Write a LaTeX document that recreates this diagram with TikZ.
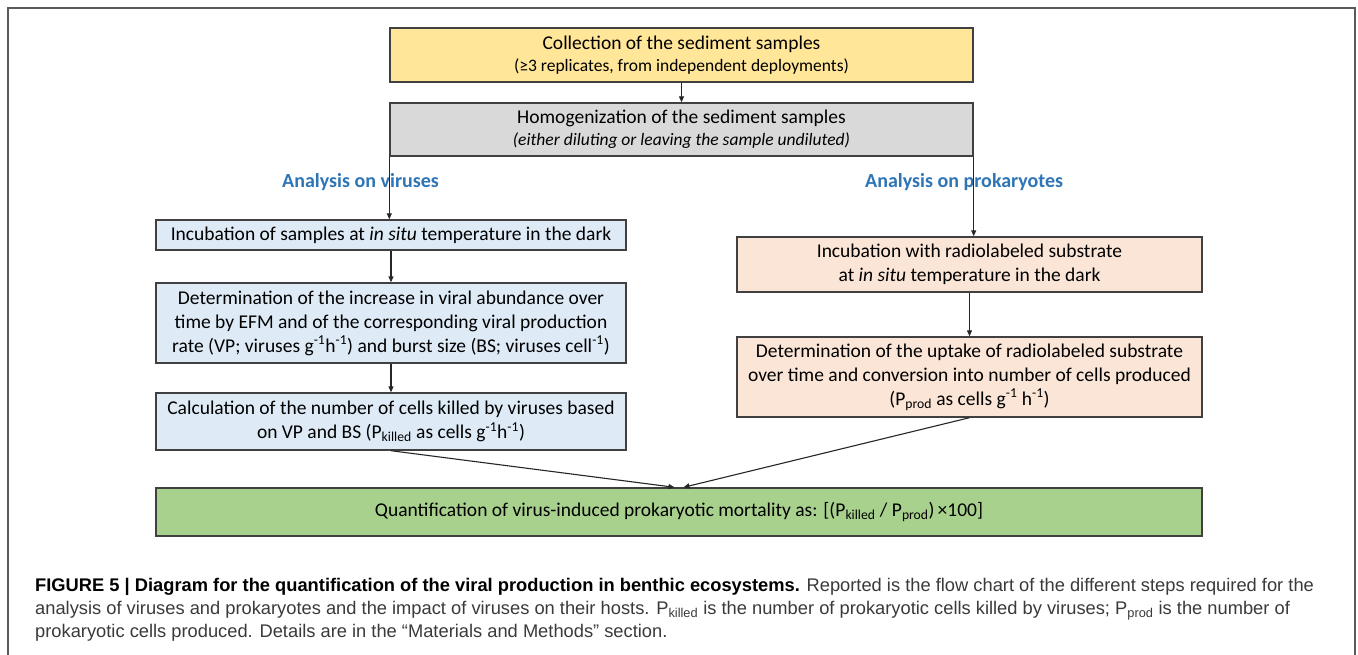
\documentclass[tikz,border=0pt]{standalone}
\usepackage{fontspec}
\setmainfont{Carlito}
\newfontfamily\capfont{Liberation Sans}
\usetikzlibrary{arrows.meta}
\definecolor{yellowbox}{HTML}{FFE699}
\definecolor{graybox}{HTML}{D9D9D9}
\definecolor{bluebox}{HTML}{DEEBF7}
\definecolor{orangebox}{HTML}{FBE5D6}
\definecolor{greenbox}{HTML}{A9D18E}
\definecolor{boxline}{HTML}{404040}
\definecolor{labelblue}{HTML}{2E75B6}
\definecolor{framegray}{HTML}{5A5A5A}
\definecolor{captext}{HTML}{3A3A3A}
\newcommand{\smalltxt}{\fontsize{17.5}{22}\selectfont}
\begin{document}
\begin{tikzpicture}[x=1pt,y=-1pt,
  box/.style={draw=boxline, line width=1.4pt, inner sep=0pt, align=center,
    font=\fontsize{19.5}{24}\selectfont},
  arr/.style={-{Triangle[length=6pt,width=5pt]}, line width=1.1pt, draw=black!85},
  lbl/.style={font=\fontsize{20}{22}\selectfont\bfseries, text=labelblue, inner sep=0pt, anchor=west}]
\useasboundingbox (0,0) rectangle (1358,654);
\fill[white] (0,0) rectangle (1358,654);
\draw[framegray, line width=1.3pt] (8,660) -- (8,8) -- (1355,8) -- (1355,660);

\node[box, fill=yellowbox, minimum width=583pt, minimum height=54pt] (col) at (681.5,55)
  {Collection of the sediment samples\\[-2pt] {\smalltxt (≥3 replicates, from independent deployments)}};
\node[box, fill=graybox, minimum width=583pt, minimum height=53pt] (hom) at (681.5,129.5)
  {Homogenization of the sediment samples\\[-2pt] {\smalltxt\itshape (either diluting or leaving the sample undiluted)}};

\node[box, fill=bluebox, minimum width=470pt, minimum height=30pt] (v1) at (391,235)
  {Incubation of samples at \textit{in situ} temperature in the dark};
\node[box, fill=bluebox, minimum width=470pt, minimum height=80pt] (v2) at (391,323)
  {Determination of the increase in viral abundance over\\
   time by EFM and of the corresponding viral production\\
   rate (VP; viruses g\textsuperscript{-1}h\textsuperscript{-1}) and burst size (BS; viruses cell\textsuperscript{-1})};
\node[box, fill=bluebox, minimum width=470pt, minimum height=57pt] (v3) at (391,421.5)
  {Calculation of the number of cells killed by viruses based\\
   on VP and BS (P\textsubscript{killed} as cells g\textsuperscript{-1}h\textsuperscript{-1})};

\node[box, fill=orangebox, minimum width=465pt, minimum height=55pt] (p1) at (969.5,264.5)
  {Incubation with radiolabeled substrate\\ at \textit{in situ} temperature in the dark};
\node[box, fill=orangebox, minimum width=465pt, minimum height=80pt] (p2) at (969.5,377)
  {Determination of the uptake of radiolabeled substrate\\
   over time and conversion into number of cells produced\\
   (P\textsubscript{prod} as cells g\textsuperscript{-1} h\textsuperscript{-1})};

\node[box, fill=greenbox, minimum width=1046pt, minimum height=48pt] (qm) at (679,512)
  {Quantification of virus-induced prokaryotic mortality as: [(P\textsubscript{killed} / P\textsubscript{prod})\,×100]};

\node[lbl] (lv) at (282,182) {Analysis on viruses};
\node[lbl] (lp) at (865,182) {Analysis on prokaryotes};

\draw[arr] (col.south) -- (hom.north);
\draw[arr] (hom.south west) -- (hom.south west |- v1.north);
\draw[arr] (hom.south east) -- (hom.south east |- p1.north);
\draw[arr] (v1.south) -- (v2.north);
\draw[arr] (v2.south) -- (v3.north);
\draw[arr] (p1.south) -- (p2.north);
\draw[arr] (v3.south) -- ([xshift=-4.5pt]qm.north);
\draw[arr] (p2.south) -- ([xshift=4.5pt]qm.north);

\node[anchor=north west, inner sep=0pt, align=left, text=captext,
  font=\capfont\fontsize{18.3}{23}\selectfont] (cap) at (35,578)
  {{\color{black}\bfseries FIGURE 5 | Diagram for the quantification of the viral production in benthic ecosystems.} Reported is the flow chart of the different steps required for the\\
   analysis of viruses and prokaryotes and the impact of viruses on their hosts. P\textsubscript{killed} is the number of prokaryotic cells killed by viruses; P\textsubscript{prod} is the number of\\
   prokaryotic cells produced. Details are in the “Materials and Methods” section.};
\end{tikzpicture}
\end{document}
